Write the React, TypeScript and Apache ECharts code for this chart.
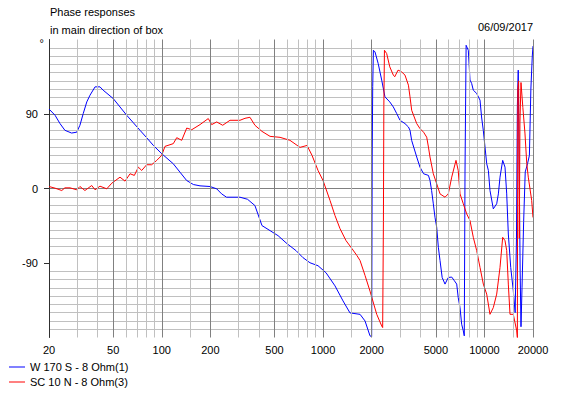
import React, { useEffect, useRef } from 'react';
import * as echarts from 'echarts';

const seriesNames = ['W 170 S - 8 Ohm(1)', 'SC 10 N - 8 Ohm(3)'];

const wFreq = [20, 21.8, 23.4, 25.1, 27.6, 29.7, 31.1, 32.6, 34.3, 35.9, 38.6, 41.4, 43.3, 50, 55.1, 60.6, 66.6, 73.3, 80.6, 88.6, 100, 117.8, 129.6, 142.6, 157, 172.6, 199, 219, 235, 252, 305, 340, 378, 418, 469, 526, 598, 679, 751, 829, 930, 1043, 1185, 1329, 1468, 1623, 1694, 1819, 1953, 2000, 2015, 2030, 2050, 2097, 2195, 2308, 2418, 2590, 2724, 2860, 2997, 3217, 3380, 3457, 3540, 3805, 3985, 4196, 4497, 4598, 4705, 4821, 4938, 5061, 5180, 5305, 5470, 5697, 5970, 6268, 6515, 6732, 6880, 7058, 7225, 7396, 7500, 7579, 7700, 7944, 8140, 8330, 8531, 8955, 9389, 9600, 9843, 10085, 10328, 10580, 10826, 11350, 11912, 12200, 12488, 12977, 13412, 13742, 14061, 14553, 15100, 15500, 15800, 16000, 16200, 16400, 16650, 16850, 17100, 17500, 17900, 18500, 19000, 19400, 19800, 20000];
const wPhase = [96, 88.5, 78.4, 70.3, 67, 68, 76.4, 90.5, 104.6, 112.7, 122.8, 122.8, 118.8, 108.7, 98.5, 88.5, 79.5, 70.3, 61.4, 52.1, 42, 29.9, 19.8, 9.7, 4.8, 3.2, 2.4, -0.4, -6.5, -10.5, -10.5, -13, -20.6, -44.8, -50.9, -57, -66.7, -75, -83.6, -89.7, -93.3, -101.8, -117.6, -135.8, -150.3, -151.5, -152, -160, -178, -179, 38, 123, 167, 165, 151, 131, 110.7, 104.6, 98.5, 90.5, 82.4, 78.4, 74.3, 70.3, 58, 38, 25.8, 17.8, 15.8, 9.7, -2.4, -18.5, -34.8, -46.9, -71, -87, -107.5, -115.5, -107.5, -107, -111.5, -115.5, -131.8, -143.9, -164, -172, -178, 20, 173, 167, 131, 127, 118.8, 114.8, 106.7, 86.4, 70, 50, 30, 21.8, -2.4, -24.6, -18.5, -6.5, 13.7, 34, 25.8, -6.5, -55, -95.4, -123.6, -150, -60, 100, 143, 40, -100, -167, -120, -40, 20, 30, 40, 120, 160, 172];

const scFreq = [20, 21.8, 24, 25.1, 27, 29.7, 31.1, 33.4, 36.8, 38.6, 41.4, 45.6, 49, 55.1, 59.2, 63.6, 67.6, 71.6, 75.1, 80.6, 86.6, 93, 99.9, 104.7, 117.9, 123.8, 132.9, 142.8, 153.4, 172.6, 194.2, 203.9, 219, 238.6, 264.8, 305.4, 328, 352, 378, 418, 469, 541, 623, 719, 795, 854, 930, 999, 1104, 1185, 1273, 1387, 1511, 1623, 1694, 1819, 1953, 2150, 2308, 2340, 2365, 2380, 2400, 2478, 2590, 2724, 2780, 2915, 3062, 3217, 3380, 3457, 3540, 3805, 3985, 4196, 4387, 4497, 4598, 4821, 5061, 5305, 5697, 5970, 6268, 6664, 6880, 7058, 7396, 7765, 8140, 8531, 8955, 9389, 9843, 10328, 10826, 11350, 11912, 12488, 12977, 13412, 13742, 14061, 14406, 15100, 15850, 16000, 16100, 16300, 16450, 16600, 16850, 17300, 17830, 18300, 18700, 19630, 20000];
const scPhase = [2.4, 0.4, -2.4, 0.8, 0.8, -1.6, 2.4, -2.4, 3.6, -1.6, 2.8, -0.4, 6.4, 13.7, 8.9, 17.8, 15.8, 25.8, 21.8, 28.7, 28.7, 33.9, 40, 50.9, 54.2, 61.4, 58.2, 73, 71, 77.2, 84.5, 77.2, 80.4, 76.4, 82.4, 82.4, 84.8, 86, 76.4, 69, 63, 61.8, 58.2, 49.7, 52, 40, 21.8, 9.7, -14.5, -32.7, -48.5, -63, -72.7, -81.2, -87, -105, -124, -152, -166, -168, -40, 100, 167, 163, 147, 137, 135, 143, 141, 137, 124.8, 110.7, 94.5, 78.4, 72.4, 68, 62, 50, 38, 17.8, 5.7, -6.5, -10.5, -6.5, 13.7, 34, 21.8, -6.5, -18.5, -30.7, -38.8, -59, -75, -95.4, -115.5, -127.6, -152, -143.9, -127.6, -95.4, -59, -63, -75, -115.5, -152, -152, -172, -180, 120, 130, -60, 80, 128, 98, 67, 30, 13.7, -14.5, -35];

const xLabelValues = [20, 50, 100, 200, 500, 1000, 2000, 5000, 10000, 20000];
const xMajorGrid = [50, 100, 200, 500, 1000, 2000, 5000, 10000, 20000];
const xMinorGrid = [30, 40, 60, 70, 80, 90, 150, 300, 400, 600, 700, 800, 900, 1500, 3000, 4000, 6000, 7000, 8000, 9000, 15000];
const yTickValues = [-90, 0, 90];

const titleLines = ['Phase responses', 'in main direction of box'];
const dateText = '06/09/2017';
const yUnit = '°';

export default function App() {
  const ref = useRef<HTMLDivElement>(null);
  useEffect(() => {
    const chart = echarts.init(ref.current!, null, { renderer: 'svg' });
    const font = '"Liberation Sans", Arial, sans-serif';
    const textBase = { fontFamily: font, fontSize: 11, fill: '#000' };
    chart.setOption({
      animation: false,
      backgroundColor: '#ffffff',
      grid: { left: 49, top: 39.5, width: 484, height: 298, containLabel: false },
      legend: {
        data: seriesNames,
        orient: 'vertical',
        left: 9,
        top: 360,
        padding: 0,
        icon: 'rect',
        itemWidth: 16,
        itemHeight: 1,
        itemGap: 1,
        textStyle: { fontFamily: font, fontSize: 11, color: '#000', lineHeight: 14 },
        selectedMode: false,
      },
      graphic: [
        { type: 'text', left: 50, top: 6, style: { ...textBase, text: titleLines[0] } },
        { type: 'text', left: 50, top: 24, style: { ...textBase, text: titleLines[1] } },
        { type: 'text', right: 47, top: 21, style: { ...textBase, text: dateText } },
        { type: 'text', x: 39.5, y: 43, style: { ...textBase, text: yUnit, verticalAlign: 'middle', align: 'left' } },
      ],
      xAxis: {
        type: 'log',
        logBase: 10,
        min: 20,
        max: 20000,
        axisLine: { show: false },
        splitLine: { show: false },
        axisTick: {
          show: true,
          customValues: xLabelValues,
          length: 3,
          lineStyle: { color: '#404040', width: 1 },
        },
        axisLabel: {
          customValues: xLabelValues,
          formatter: (v: number) => String(Math.round(v)),
          fontFamily: font,
          fontSize: 11,
          color: '#000',
          margin: 7,
        },
      },
      yAxis: {
        type: 'value',
        min: -180,
        max: 180,
        interval: 90,
        axisLine: { show: true, onZero: false, lineStyle: { color: '#303030', width: 1 } },
        axisTick: { show: true, customValues: yTickValues, length: 5, lineStyle: { color: '#303030' } },
        axisLabel: {
          customValues: yTickValues,
          formatter: (v: number) => String(v),
          fontFamily: font,
          fontSize: 11,
          color: '#000',
          margin: 11,
        },
        splitLine: { show: true, showMinLine: false, lineStyle: { color: '#808080', width: 1 } },
        minorTick: { show: false, splitNumber: 9 },
        minorSplitLine: { show: true, lineStyle: { color: '#c0c0c0', width: 1 } },
      },
      series: [
        {
          name: 'grid',
          type: 'line',
          z: 1,
          data: [[20, 0]],
          symbol: 'none',
          lineStyle: { width: 0, opacity: 0 },
          silent: true,
          markLine: {
            silent: true,
            symbol: ['none', 'none'],
            label: { show: false },
            animation: false,
            data: [
              ...xMinorGrid.map((v) => ({ xAxis: v, lineStyle: { color: '#c0c0c0', width: 1, type: 'solid' } })),
              ...xMajorGrid.map((v) => ({ xAxis: v, lineStyle: { color: '#808080', width: 1, type: 'solid' } })),
            ],
          },
        },
        {
          name: seriesNames[0],
          type: 'line',
          z: 3,
          data: wFreq.map((f, i) => [f, wPhase[i]]),
          symbol: 'none',
          color: '#0000ff',
          lineStyle: { color: '#0000ff', width: 1 },
          itemStyle: { color: '#0000ff' },
          silent: true,
        },
        {
          name: seriesNames[1],
          type: 'line',
          z: 4,
          data: scFreq.map((f, i) => [f, scPhase[i]]),
          symbol: 'none',
          color: '#ff0000',
          lineStyle: { color: '#ff0000', width: 1 },
          itemStyle: { color: '#ff0000' },
          silent: true,
        },
      ],
    });
    return () => chart.dispose();
  }, []);
  return <div ref={ref} style={{ position: 'absolute', left: 0, top: 0, width: 580, height: 397 }} />;
}
